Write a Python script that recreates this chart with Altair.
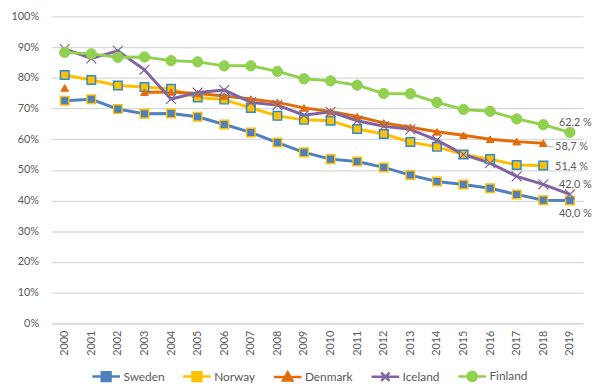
import altair as alt
import pandas as pd

FONT = "Lato"
TEXT_COLOR = "#595959"
GRID_COLOR = "#d9d9d9"

years = [str(y) for y in range(2000, 2020)]
countries = ["Sweden", "Norway", "Denmark", "Iceland", "Finland"]

sweden = [72.5, 73.0, 69.8, 68.3, 68.4, 67.3, 64.8, 62.2, 58.9, 55.7,
          53.5, 52.7, 50.8, 48.3, 46.2, 45.2, 44.0, 42.0, 40.1, 40.0]
norway = [80.9, 79.3, 77.5, 77.0, 76.4, 73.6, 72.9, 70.2, 67.6, 66.3,
          66.0, 63.3, 61.7, 59.1, 57.5, 55.0, 53.5, 51.6, 51.4, None]
denmark = [76.7, None, None, 75.3, 75.4, 74.9, 74.1, 73.1, 72.0, 70.2,
           69.0, 67.4, 65.3, 63.9, 62.4, 61.3, 60.0, 59.2, 58.7, None]
iceland = [89.4, 86.3, 88.8, 82.6, 73.1, 75.2, 76.0, 72.0, 71.1, 67.8,
           68.9, 66.0, 64.2, 63.2, 59.7, 55.0, 52.2, 47.9, 45.3, 42.0]
finland = [88.3, 87.8, 86.7, 86.8, 85.6, 85.2, 83.9, 83.9, 82.1, 79.7,
           79.0, 77.6, 74.9, 74.8, 72.0, 69.7, 69.1, 66.6, 64.7, 62.2]

label_country = ["Finland", "Denmark", "Norway", "Iceland", "Sweden"]
label_year = ["2019", "2018", "2018", "2019", "2019"]
label_value = [62.2, 58.7, 51.4, 42.0, 40.0]
label_text = ["62,2 %", "58,7 %", "51,4 %", "42,0 %", "40,0 %"]

series = dict(zip(countries, [sweden, norway, denmark, iceland, finland]))

rows = []
for name in countries:
    seg = 0
    for yr, v in zip(years, series[name]):
        if v is None:
            seg += 1
            continue
        rows.append({"country": name, "year": yr, "value": v, "seg": f"{name}-{seg}"})
df = pd.DataFrame(rows)

labels_df = pd.DataFrame({"country": label_country, "year": label_year,
                          "value": label_value, "label": label_text})

line_colors = ["#4F81BD", "#FFC000", "#E36C09", "#8064A2", "#92D050"]

x = alt.X("year:O", scale=alt.Scale(type="point", padding=0.5, domain=years),
          axis=alt.Axis(title=None, labelAngle=-90, ticks=False, domain=True,
                        domainColor=GRID_COLOR, domainWidth=1.3, labelPadding=7,
                        labelColor=TEXT_COLOR, labelFontSize=11, labelFont=FONT, grid=False))
y = alt.Y("value:Q", scale=alt.Scale(domain=[0, 100], nice=False),
          axis=alt.Axis(title=None, values=list(range(0, 101, 10)),
                        labelExpr="datum.value + '%'", ticks=False, domain=False,
                        gridColor=GRID_COLOR, gridWidth=1.3, labelPadding=13,
                        labelColor=TEXT_COLOR, labelFontSize=11, labelFont=FONT))

base = alt.Chart(df)

lines = base.mark_line(strokeWidth=3).encode(
    x=x, y=y,
    color=alt.Color("country:N", scale=alt.Scale(domain=countries, range=line_colors), legend=None),
    detail="seg:N",
)

X_PATH = "M-1,-1L1,1M-1,1L1,-1"
marker_styles = {
    "Sweden": dict(shape="square", fill="#4F81BD", stroke="#FFC000", size=75, strokeWidth=1.5),
    "Norway": dict(shape="square", fill="#FFC000", stroke="#2E8BD0", size=75, strokeWidth=1.5),
    "Denmark": dict(shape="triangle-up", fill="#E36C09", stroke="#E36C09", size=60, strokeWidth=1),
    "Iceland": dict(shape=X_PATH, fill="transparent", stroke="#8064A2", size=100, strokeWidth=1.2),
    "Finland": dict(shape="circle", fill="#92D050", stroke="#92D050", size=110, strokeWidth=1),
}

layers = []
for name in countries:
    st = marker_styles[name]
    layers.append(
        base.transform_filter(alt.datum.country == name)
        .mark_point(opacity=1, filled=True, **st)
        .encode(x=x, y=y)
    )

legend_paths = [
    "M-1,0H1M-0.32,-0.32H0.32V0.32H-0.32Z",
    "M-1,0H1M-0.32,-0.32H0.32V0.32H-0.32Z",
    "M-1,0H1M0,-0.34L0.34,0.26H-0.34Z",
    "M-1,0H1M-0.3,-0.3L0.3,0.3M-0.3,0.3L0.3,-0.3",
    "M-1,0H1M0.34,0A0.34,0.34 0 1,1 -0.34,0A0.34,0.34 0 1,1 0.34,0Z",
]
legend_fills = ["#4F81BD", "#FFC000", "#E36C09", "transparent", "#92D050"]

leg = alt.Legend(title=None, orient="none", legendX=40, legendY=349, direction="horizontal",
                 columns=5, symbolSize=784, symbolStrokeWidth=2.5, labelFontSize=12,
                 labelColor=TEXT_COLOR, labelFont=FONT, columnPadding=13, labelOffset=2)

legend_layer = base.mark_point(opacity=1, filled=True, size=0, strokeWidth=0).encode(
    x=x, y=y,
    shape=alt.Shape("country:N", scale=alt.Scale(domain=countries, range=legend_paths), legend=leg),
    fill=alt.Fill("country:N", scale=alt.Scale(domain=countries, range=legend_fills), legend=leg),
    stroke=alt.Stroke("country:N", scale=alt.Scale(domain=countries, range=line_colors), legend=leg),
)

label_offsets = {
    "Finland": (-11, -10),
    "Denmark": (12, 4),
    "Norway": (12, 1),
    "Iceland": (-11, -9),
    "Sweden": (-11, 14),
}
text_layers = []
for name in label_country:
    dx, dy = label_offsets[name]
    text_layers.append(
        alt.Chart(labels_df).transform_filter(alt.datum.country == name)
        .mark_text(align="left", baseline="middle", dx=dx, dy=dy, fontSize=11,
                   color=TEXT_COLOR, font=FONT)
        .encode(x=x, y=y, text="label:N")
    )

# short leader line from the Denmark marker to its label
leader = (
    alt.Chart(labels_df).transform_filter(alt.datum.country == "Denmark")
    .mark_rule(color="#a6a6a6", strokeWidth=1, xOffset=3, x2Offset=10, yOffset=3, y2Offset=4)
    .encode(x=x, x2="year:O", y=y, y2="value:Q")
)

chart = alt.layer(legend_layer, lines, *layers, leader, *text_layers).properties(
    width=539, height=311,
    autosize=alt.AutoSizeParams(type="none"),
    padding={"left": 44, "top": 6, "right": 12, "bottom": 60},
).configure_view(stroke=None)

chart.save("out.html", embed_options={"renderer": "svg", "actions": False})
